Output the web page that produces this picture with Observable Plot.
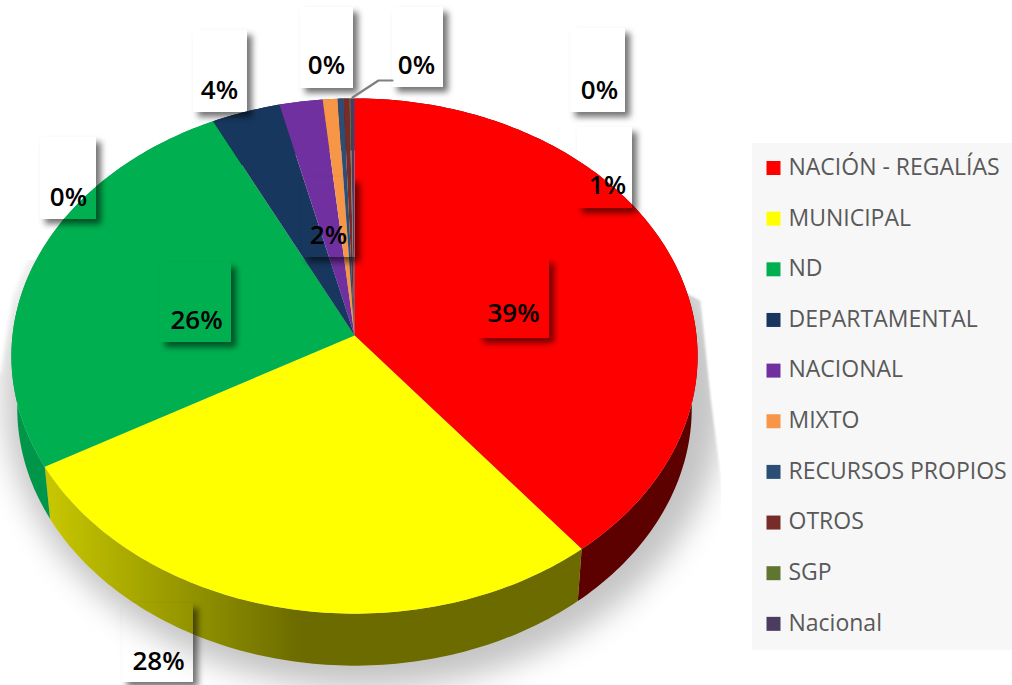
<!DOCTYPE html>
<html>
<head>
<meta charset="utf-8">
<script src="https://cdn.jsdelivr.net/npm/d3@7"></script>
<script src="https://cdn.jsdelivr.net/npm/@observablehq/plot@0.6"></script>
<style>
html,body{margin:0;padding:0;background:#fff;overflow:hidden}
svg{display:block}
</style>
</head>
<body>
<svg width="0" height="0" style="position:absolute">
  <defs>
    <linearGradient id="yellowSide" gradientUnits="userSpaceOnUse" x1="50" y1="0" x2="300" y2="0">
      <stop offset="0" stop-color="#c6c600"/>
      <stop offset="1" stop-color="#6b6b00"/>
    </linearGradient>
    <filter id="pieShadow" filterUnits="userSpaceOnUse" x="-40" y="260" width="760" height="425" color-interpolation-filters="sRGB">
      <feGaussianBlur stdDeviation="15"/>
    </filter>
    <filter id="boxShadow" filterUnits="userSpaceOnUse" x="0" y="0" width="1012" height="685" color-interpolation-filters="sRGB">
      <feGaussianBlur in="SourceAlpha" stdDeviation="3" result="b"/>
      <feOffset in="b" dx="5" dy="5" result="o"/>
      <feFlood flood-color="#000" flood-opacity="0.55" result="c"/>
      <feComposite in="c" in2="o" operator="in" result="s"/>
      <feComposite in="s" in2="SourceAlpha" operator="out"/>
    </filter>
  </defs>
</svg>
<div id="chart"></div>
<script>
const names = ["NACIÓN - REGALÍAS","MUNICIPAL","ND","DEPARTAMENTAL","NACIONAL","MIXTO","RECURSOS PROPIOS","OTROS","SGP","Nacional"];
const shares = [39.3,27.5,25.9,3.5,2.2,0.75,0.3,0.3,0.05,0.2];
const colors = ["#ff0000","#ffff00","#00b050","#17375e","#7030a0","#f79646","#2c4d75","#772c2a","#5f7530","#4d3b62"];
const sideColors = ["#5c0000","url(#yellowSide)","#00964a","#0f2540","#4c2070","#a8652f","#1e344f","#501d1c","#404f20","#342842"];

// Hand-placed label frames [left, top, right, bottom], one for each category.
const labelFrames = [[478,258,549,338],[122,603,193,682],[160,262,231,342],[193,30,247,112],[302,177,355,257],[577,127,632,208],[40,137,96,219],[300,7,353,88],[392,7,443,87],[570,28,625,112]];
const labelCentres = [[513,313],[158,661],[196,320],[219,90],[328,235],[607,185],[68,197],[326,65],[416,65],[599,90]];
const leader = [[392,80],[378,80],[352,97]];
const shadowCutRight = [[640,240],[735,240],[735,530],[722,490],[710,397],[700,300],[640,270]];
const shadowCutLeft = [[-10,250],[30,250],[12,296],[0,372],[-10,376]];

const apex = {x:354, y:335, a:342, b:256, k:0.0796};
const project = (deg, drop=0, shrink=1) => {
  const t = deg*Math.PI/180, u = Math.sin(t), v = Math.cos(t), d = 1 + apex.k*v;
  return {x: apex.x + shrink*apex.a*u/d, y: apex.y - apex.b*v/d + drop};
};
const arc = (from, to, drop, shrink) => {
  const n = Math.max(2, Math.ceil(Math.abs(to-from))+1);
  return d3.range(n).map(i => project(from+(to-from)*i/(n-1), drop, shrink));
};
const total = d3.sum(shares);
const edges = d3.cumsum([0,...shares]).map(c => c/total*360);

const shadowOutline = arc(0,360).map(p => ({x: 364+(p.x-354)*1.05, y: 395+(p.y-356)*1.14}));

const marks = [
  Plot.line(shadowOutline,{x:"x",y:"y",fill:"#c4c4c4",stroke:null,imageFilter:"url(#pieShadow)"}),
  Plot.line(shadowCutRight,{x:d=>d[0],y:d=>d[1],fill:"#fff",stroke:null,imageFilter:"blur(1px)"}),
  Plot.line(shadowCutLeft,{x:d=>d[0],y:d=>d[1],fill:"#fff",stroke:null,imageFilter:"blur(2px)"}),
  ...names.map((n,i)=>Plot.line([...arc(edges[i],edges[i+1]),...arc(edges[i+1],edges[i],52,0.983)],
    {x:"x",y:"y",fill:sideColors[i],stroke:null})),
  ...names.map((n,i)=>Plot.line([{x:apex.x,y:apex.y},...arc(edges[i],edges[i+1])],
    {x:"x",y:"y",fill:colors[i],stroke:null})),
  Plot.rect(labelFrames,{x1:d=>d[0],y1:d=>d[1],x2:d=>d[2],y2:d=>d[3],fill:"#000",imageFilter:"url(#boxShadow)"}),
  Plot.line(leader,{x:d=>d[0],y:d=>d[1],stroke:"#7f7f7f",strokeWidth:2.2}),
  Plot.text(shares,{x:(d,i)=>labelCentres[i][0],y:(d,i)=>labelCentres[i][1],text:d=>Math.round(d)+"%",
    fontFamily:"Open Sans",fontWeight:600,fontSize:26,fill:"#000",textAnchor:"middle",lineAnchor:"middle"}),
  Plot.rect([0],{x1:752,x2:1012,y1:143,y2:650,fill:"#f7f7f7"}),
  Plot.dot(names,{x:773,y:(d,i)=>167.5+i*50.65,symbol:"square",r:7.9,fill:(d,i)=>colors[i],stroke:null}),
  Plot.text(names,{x:788,y:(d,i)=>167+i*50.65,text:d=>d,fontFamily:"Open Sans",fontSize:23,fill:"#595959",textAnchor:"start",lineAnchor:"middle"})
];

const chart = Plot.plot({
  width:1012,height:685,margin:0,
  x:{domain:[0,1012],range:[0,1012],axis:null},
  y:{domain:[0,685],range:[0,685],axis:null},
  style:{background:"#fff"},
  marks
});
document.getElementById("chart").append(chart);
</script>
</body>
</html>
